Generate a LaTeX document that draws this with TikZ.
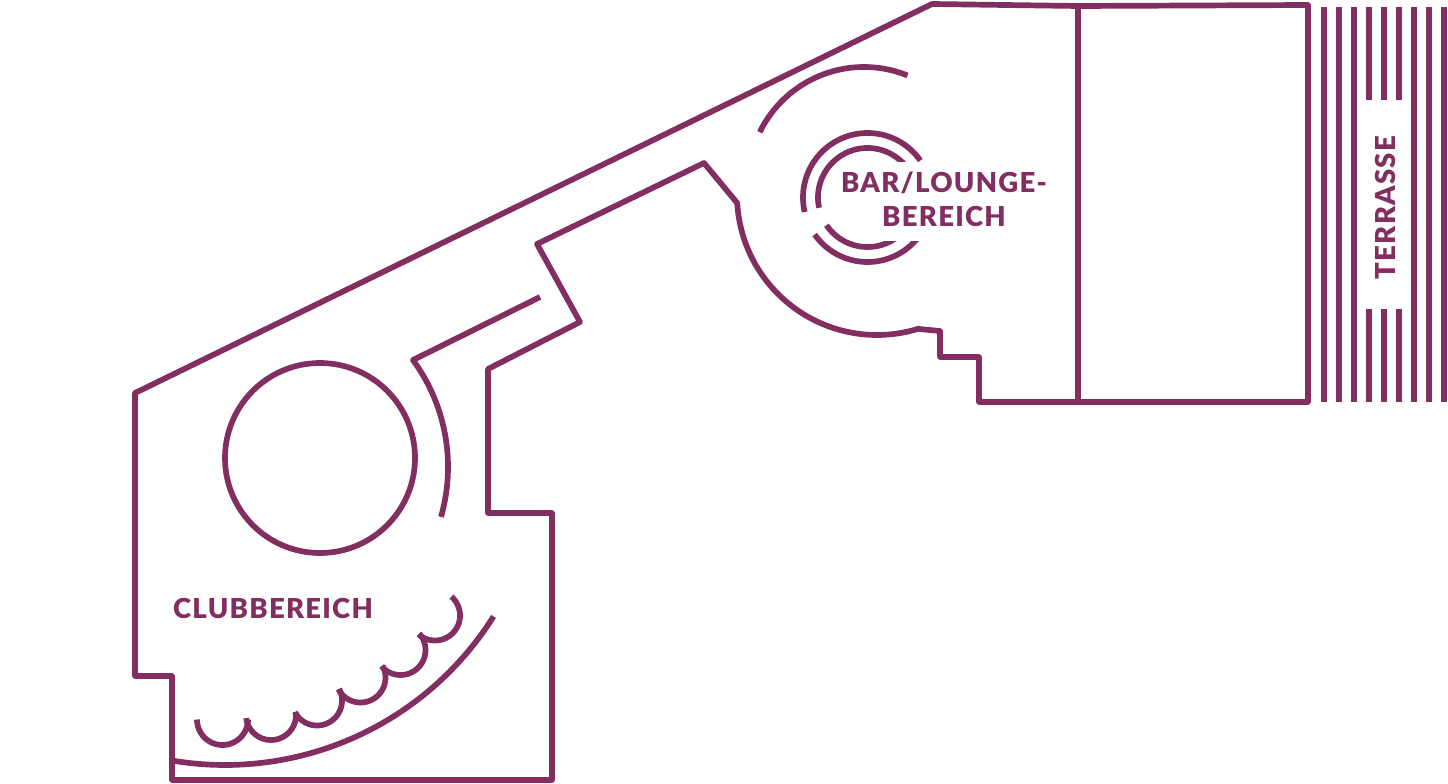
\documentclass[tikz,border=0pt]{standalone}
\usepackage{fontspec}
\setmainfont{Lato Black}[LetterSpace=4.6]
\definecolor{plum}{HTML}{822E60}
\tikzset{
  wall/.style={draw=plum,line width=5.7pt,line join=round,line cap=butt},
  stripe/.style={draw=plum,line width=6pt},
  room/.style={text=plum,font=\fontsize{27.5pt}{34.5pt}\selectfont,inner sep=0pt,align=center,anchor=center},
  fine/.style={samples=70}
}
\begin{document}
\begin{tikzpicture}[x=1pt,y=-1pt]
\useasboundingbox (0,0) rectangle (1448,784);
% outer wall
\draw[wall] (172,780) -- (172,676) -- (135,676) -- (135,393) -- (932,4) -- (1078,6) -- (1308,5) -- (1308,402) -- (979,402) -- (979,357) -- (940,357) -- (940,331) -- (919,329)
  -- plot[fine,domain=72.6:176.7] ({877+140*cos(\x)},{195+140*sin(\x)}) -- (704,163) -- (537,244) -- (580,322) -- (488,369) -- (488,513) -- (552,513) -- (552,780) -- cycle;
\draw[wall] (1078,6) -- (1078,402);
% bar arcs
\draw[wall] plot[fine,domain=206:292] ({864+116*cos(\x)},{183+116*sin(\x)});
\foreach \rr/\sa/\ea in {64.5/167/325, 49.5/168/325, 64.5/30/145, 49.5/30/146}
  \draw[wall] plot[fine,domain=\sa:\ea] ({867.5+\rr*cos(\x)},{197.5+\rr*sin(\x)});
\fill[white] (838,162) rectangle (960,195);
\fill[white] (868,195) rectangle (960,241);
% club
\draw[wall] (540,297) -- (413,360) -- plot[fine,domain=-36.2:16] ({267+181*cos(\x)},{467+181*sin(\x)});
\draw[wall] (320,458) circle[radius=95];
\draw[wall] plot[fine,domain=32.1:99.5] ({225+317*cos(\x)},{448+317*sin(\x)});
\foreach \cx/\cy/\rr/\sa/\ea in {222.5/719.5/25.5/180/0, 271/715/25/173/-7, 317/700.5/25/152.4/-27.6, 360.5/677.5/25/151.9/-28.1, 400.5/650/25/139.1/-40.9, 435/615.5/25/131/-49}
  \draw[wall] plot[fine,domain=\sa:\ea] ({\cx+\rr*cos(\x)},{\cy+\rr*sin(\x)});
% terrace
\foreach \xx in {1324.3,1339.3,1354.3,1414.3,1429.3,1444.3}
  \draw[stripe] (\xx,7) -- (\xx,402);
\foreach \xx in {1369.3,1384.3,1399.3} {
  \draw[stripe] (\xx,7) -- (\xx,100);
  \draw[stripe] (\xx,309) -- (\xx,402);
}
% labels
\node[room] (bar) at (944,199.5) {BAR/LOUNGE-\\BEREICH};
\node[room] (club) at (273,608) {CLUBBEREICH};
\node[room,rotate=90] (terrasse) at (1385.5,207.5) {TERRASSE};
\end{tikzpicture}
\end{document}
